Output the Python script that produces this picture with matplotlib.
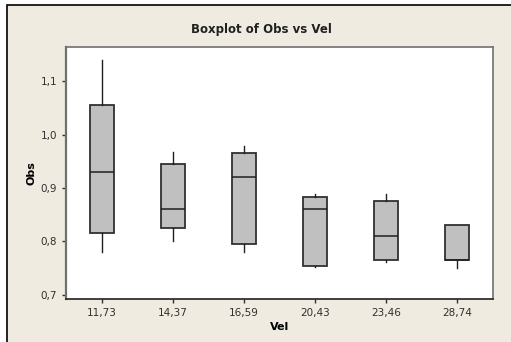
import matplotlib
matplotlib.use("Agg")
from matplotlib import pyplot as plt
from matplotlib.patches import Rectangle

# valores
vel = ["11,73", "14,37", "16,59", "20,43", "23,46", "28,74"]
whislo = [0.781, 0.801, 0.781, 0.752, 0.761, 0.751]
q1 = [0.815, 0.825, 0.795, 0.755, 0.765, 0.765]
med = [0.930, 0.860, 0.920, 0.860, 0.810, 0.765]
q3 = [1.055, 0.945, 0.965, 0.884, 0.875, 0.830]
whishi = [1.139, 0.968, 0.978, 0.888, 0.889, 0.830]

bg = "#efebe0"

fig = plt.figure(figsize=(5.11, 3.42), dpi=100)
fig.patch.set_facecolor("white")
# moldura bege
fig.patches.append(Rectangle((7 / 511, -0.1), 1.2, (337 / 342) + 0.1,
                             transform=fig.transFigure, facecolor=bg,
                             edgecolor="black", linewidth=1.2, zorder=-10))

ax = fig.add_axes([66 / 511, 43 / 342, 427 / 511, 252 / 342])
ax.set_facecolor("white")
ax.set_zorder(5)

stats = []
for i in range(len(vel)):
    stats.append({"whislo": whislo[i], "q1": q1[i], "med": med[i],
                  "q3": q3[i], "whishi": whishi[i], "fliers": []})

ax.bxp(stats, positions=range(1, len(vel) + 1), widths=0.335,
       patch_artist=True, showcaps=False,
       boxprops=dict(facecolor="#c0c0c0", edgecolor="#303030", linewidth=1.3),
       medianprops=dict(color="#202020", linewidth=1.1),
       whiskerprops=dict(color="#202020", linewidth=1.0))

ax.set_xlim(0.5, 6.5)
ax.set_ylim(0.6925, 1.1636)
ax.set_xticks(range(1, len(vel) + 1))
ax.set_xticklabels(vel)
ax.set_yticks([0.7, 0.8, 0.9, 1.0, 1.1])
ax.set_yticklabels(["0,7", "0,8", "0,9", "1,0", "1,1"])
ax.tick_params(labelsize=7.5, length=3, width=1, colors="#303030",
               labelcolor="#303030")

for s in ["top", "right"]:
    ax.spines[s].set_color("#707070")
    ax.spines[s].set_linewidth(1.2)
ax.spines["left"].set_color("#707070")
ax.spines["left"].set_linewidth(1.6)
ax.spines["bottom"].set_color("#202020")
ax.spines["bottom"].set_linewidth(1.2)

ax.set_xlabel("Vel", fontsize=8, fontweight="bold", labelpad=3)
ax.set_ylabel("Obs", fontsize=8, fontweight="bold", labelpad=3)
fig.text(0.512, 1 - 30 / 342, "Boxplot of Obs vs Vel", ha="center", va="center",
         fontsize=8.5, fontweight="bold", color="#202020")

fig.savefig("out.png", dpi=100, facecolor=fig.get_facecolor())
